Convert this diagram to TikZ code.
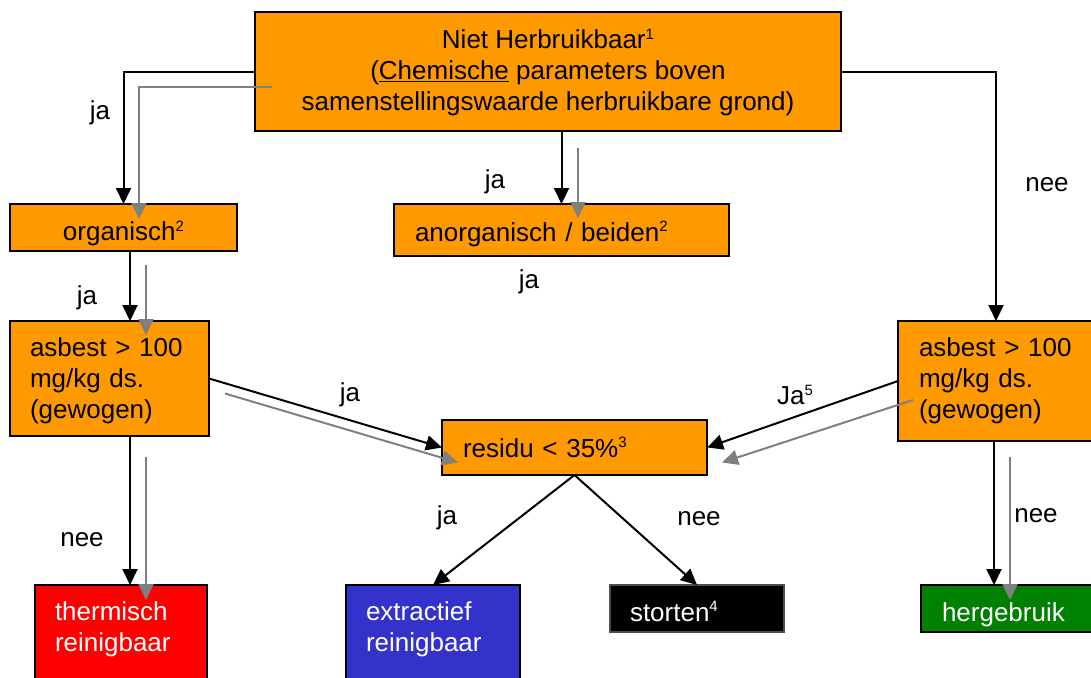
\documentclass[tikz,border=0pt]{standalone}
\usepackage{fontspec}
\setmainfont{Liberation Sans}
\usetikzlibrary{arrows.meta,calc}
\definecolor{ora}{RGB}{255,153,0}
\definecolor{grn}{RGB}{0,128,0}
\definecolor{blu}{RGB}{51,51,204}
\definecolor{gry}{RGB}{128,128,128}
\newcommand\sups[1]{\raisebox{0.36em}{\fontsize{15}{15}\selectfont #1}}
\newcommand\lowr[2]{\raisebox{-#1}[\height][\depth]{#2}}
\newcommand\lcol[1]{\begin{tabular}{@{}l@{}}#1\end{tabular}}
\newcommand\ccol[1]{\begin{tabular}{@{}c@{}}#1\end{tabular}}
\begin{document}
\begin{tikzpicture}[x=1pt,y=-1pt,
  every node/.style={font=\fontsize{26}{31}\selectfont},
  box/.style={draw=black, line width=1.6pt, inner sep=0pt, outer sep=0pt},
  obox/.style={box, fill=ora},
  wbox/.style={box, text=white, align=left},
  barrow/.style={line width=2pt, draw=black, -{Triangle[length=16pt,width=15pt]}},
  garrow/.style={line width=2pt, draw=gry, -{Triangle[length=16pt,width=15pt]}},
  lbl/.style={inner sep=0pt},
]
\useasboundingbox (0,0) rectangle (1091,677);
% boxes
\node[obox, minimum width=586pt, minimum height=119pt, align=center] (top) at (548,71.5)
  {\lowr{2pt}{\ccol{Niet Herbruikbaar\sups{1}\\(\underline{Chemische} parameters boven\\samenstellingswaarde herbruikbare grond)}}};
\node[obox, minimum width=227pt, minimum height=47pt] (org) at (123.5,227.5) {\lowr{6pt}{organisch\sups{2}}};
\node[obox, minimum width=335pt, minimum height=52pt, text width=293pt, align=left] (anorg) at (561.5,230) {\lowr{4pt}{anorganisch / beiden\sups{2}}};
\node[obox, minimum width=199pt, minimum height=115pt, text width=159pt, align=left] (lasb) at (109.5,378.5) {\lowr{3pt}{\lcol{asbest > 100\\mg/kg ds.\\(gewogen)}}};
\node[obox, minimum width=196pt, minimum height=120pt, text width=154pt, align=left] (rasb) at (996,381) {\lcol{asbest > 100\\mg/kg ds.\\(gewogen)}};
\node[obox, minimum width=265pt, minimum height=55pt, text width=223pt, align=left] (res) at (574.5,447.5) {residu < 35\%\sups{3}};
\node[wbox, fill=red, minimum width=172pt, minimum height=96pt, text width=132pt] (th) at (121,633) {\lowr{-3pt}{\lcol{thermisch\\reinigbaar}}};
\node[wbox, fill=blu, minimum width=174pt, minimum height=96pt, text width=134pt] (extr) at (433,633) {\lowr{-3pt}{\lcol{extractief\\reinigbaar}}};
\node[wbox, fill=black, draw=gry!60!black, minimum width=174pt, minimum height=47pt, text width=134pt] (stort) at (697,608.5) {\lowr{3pt}{storten\sups{4}}};
\node[wbox, fill=grn, minimum width=180pt, minimum height=47pt, text width=138pt] (herg) at (1011,608.5) {\lowr{6pt}{hergebruik}};
% connectors
\draw[barrow] (top.west) -| (org.north);
\draw[garrow] ($(top.west)+(17,15)$) -| ($(org.north)+(15.5,15)$);
\draw[barrow] (top.south -| anorg.north) -- (anorg.north);
\draw[garrow] ($(anorg.north)+(16.5,-56)$) -- ($(anorg.north)+(16.5,14)$);
\draw[barrow] (top.east) -| (rasb.north);
\draw[barrow] ($(org.south)+(6.5,0)$) -- ($(lasb.north)+(20.5,0)$);
\draw[garrow] ($(org.south)+(22.5,14)$) -- ($(lasb.north)+(36.5,14)$);
\draw[barrow] (lasb.east) -- (res.west);
\draw[garrow] ($(lasb.east)+(16,15)$) -- ($(res.west)+(16,15)$);
\draw[barrow] (rasb.west) -- (res.east);
\draw[garrow] ($(rasb.west)+(15,19)$) -- ($(res.east)+(15,15)$);
\draw[barrow] (res.south) -- (extr.north);
\draw[barrow] (res.south) -- (stort.north);
\draw[barrow] ($(lasb.south)+(20.5,0)$) -- ($(th.north)+(9,0)$);
\draw[garrow] ($(lasb.south)+(36.5,21)$) -- ($(th.north)+(25,15)$);
\draw[barrow] ($(rasb.south)+(-2,0)$) -- ($(herg.north)+(-17,0)$);
\draw[garrow] ($(rasb.south)+(14,16)$) -- ($(herg.north)+(-1,15)$);
% labels
\node[lbl] (l1) at (100,113) {ja};
\node[lbl] (l2) at (495,182) {ja};
\node[lbl] (l3) at (529,282) {ja};
\node[lbl] (l4) at (1047,185) {nee};
\node[lbl] (l5) at (87,298) {ja};
\node[lbl] (l6) at (350,395) {ja};
\node[lbl] (l7) at (795,395) {Ja\sups{5}};
\node[lbl] (l8) at (447,518) {ja};
\node[lbl] (l9) at (699,519) {nee};
\node[lbl] (l10) at (82,540) {nee};
\node[lbl] (l11) at (1036,516) {nee};
\end{tikzpicture}
\end{document}
